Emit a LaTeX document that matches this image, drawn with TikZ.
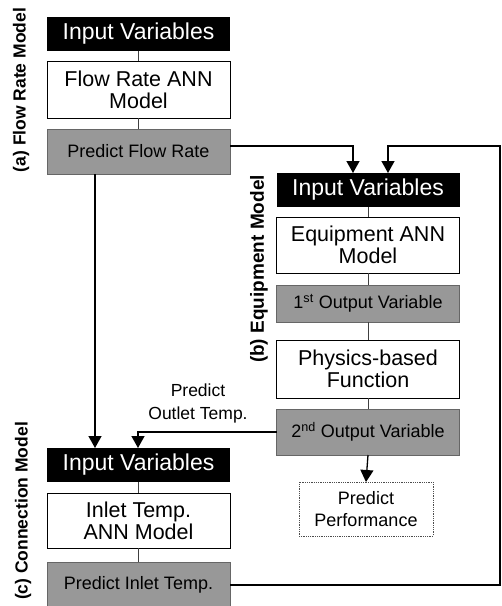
\documentclass[tikz,border=0pt]{standalone}
\usepackage{fontspec}
\setmainfont{Liberation Sans}
\usetikzlibrary{arrows.meta}
\definecolor{shade}{RGB}{152,152,152}
\tikzset{
  x=1pt, y=-1pt,
  every node/.style={inner sep=0pt, outer sep=0pt, align=center},
  darkbox/.style={rectangle, fill=black, text=white, minimum width=183pt,
    minimum height=34pt, font=\fontsize{23}{24}\selectfont},
  plainbox/.style={rectangle, draw=black, line width=0.8pt, fill=white,
    minimum width=183pt, font=\fontsize{21.5}{22}\selectfont},
  shadebox/.style={rectangle, draw=black!60, line width=0.6pt, fill=shade,
    minimum width=183pt, font=\fontsize{18}{20}\selectfont},
  resultbox/.style={rectangle, draw=black!70, densely dotted, line width=0.8pt,
    fill=white, minimum width=134pt, minimum height=54pt,
    font=\fontsize{18}{22}\selectfont},
  sidelabel/.style={rotate=90, font=\bfseries\fontsize{17.5}{20}\selectfont},
  link/.style={draw=black!75, line width=0.8pt},
  flow/.style={draw=black, line width=1.3pt, -{Triangle[width=13pt,length=12pt]}},
}
\begin{document}
\begin{tikzpicture}
\clip (0,0) rectangle (502,606);
\fill[white] (0,0) rectangle (502,606);

% (a) flow rate model
\node[darkbox] (fin) at (138.5,33.5) {Input Variables};
\node[plainbox, minimum height=57pt] (fann) at (138.5,89.5) {Flow Rate ANN\\Model};
\node[shadebox, minimum height=45pt] (fpred) at (138.5,151.5) {Predict Flow Rate};
\node[sidelabel] (alab) at (21,90) {(a) Flow Rate Model};

% (b) equipment model
\node[darkbox] (ein) at (368,190) {Input Variables};
\node[plainbox, minimum height=56pt] (eann) at (368,245) {Equipment ANN\\Model};
\node[shadebox, minimum height=37pt] (eout1) at (368,303.5) {1\textsuperscript{st} Output Variable};
\node[plainbox, minimum height=58pt] (ephys) at (368,369) {Physics-based\\Function};
\node[shadebox, minimum height=46pt] (eout2) at (368,432) {2\textsuperscript{nd} Output Variable};
\node[resultbox] (eperf) at (366,509) {Predict\\Performance};
\node[sidelabel, font=\bfseries\fontsize{19}{20}\selectfont] (blab) at (259,269) {(b) Equipment Model};

% (c) connection model
\node[darkbox] (cin) at (138.5,465) {Input Variables};
\node[plainbox, minimum height=55pt] (cann) at (138.5,520.5) {Inlet Temp.\\ANN Model};
\node[shadebox, minimum height=46pt] (cpred) at (138.5,585) {Predict Inlet Temp.};
\node[sidelabel] (clab) at (23,511) {(c) Connection Model};

\node[font=\fontsize{17.5}{23}\selectfont] (olab) at (198,403.5) {Predict\\Outlet Temp.};

% links inside each model
\draw[link] (fin) -- (fann);
\draw[link] (fann) -- (fpred);
\draw[link] (ein) -- (eann);
\draw[link] (eann) -- (eout1);
\draw[link] (eout1) -- (ephys);
\draw[link] (ephys) -- (eout2);
\draw[link] (cin) -- (cann);
\draw[link] (cann) -- (cpred);

% turning points of the data flows
\coordinate (flowturn) at (353,146);
\coordinate (flowdown) at (95,0);
\coordinate (backright) at (500,146);
\coordinate (backleft) at (388,146);
\coordinate (outletturn) at (138,0);

\draw[flow] (fpred.east |- flowturn) -- (flowturn) -- (flowturn |- ein.north);
\draw[flow] (fpred.south -| flowdown) -- (flowdown |- cin.north);
\draw[flow] (cpred.east) -- (cpred.east -| backright) -- (backright) -- (backleft) -- (backleft |- ein.north);
\draw[flow] (eout2.west) -- (eout2.west -| outletturn) -- (outletturn |- cin.north);
\draw[flow] (eout2.south) -- (eperf.north);
\end{tikzpicture}
\end{document}
